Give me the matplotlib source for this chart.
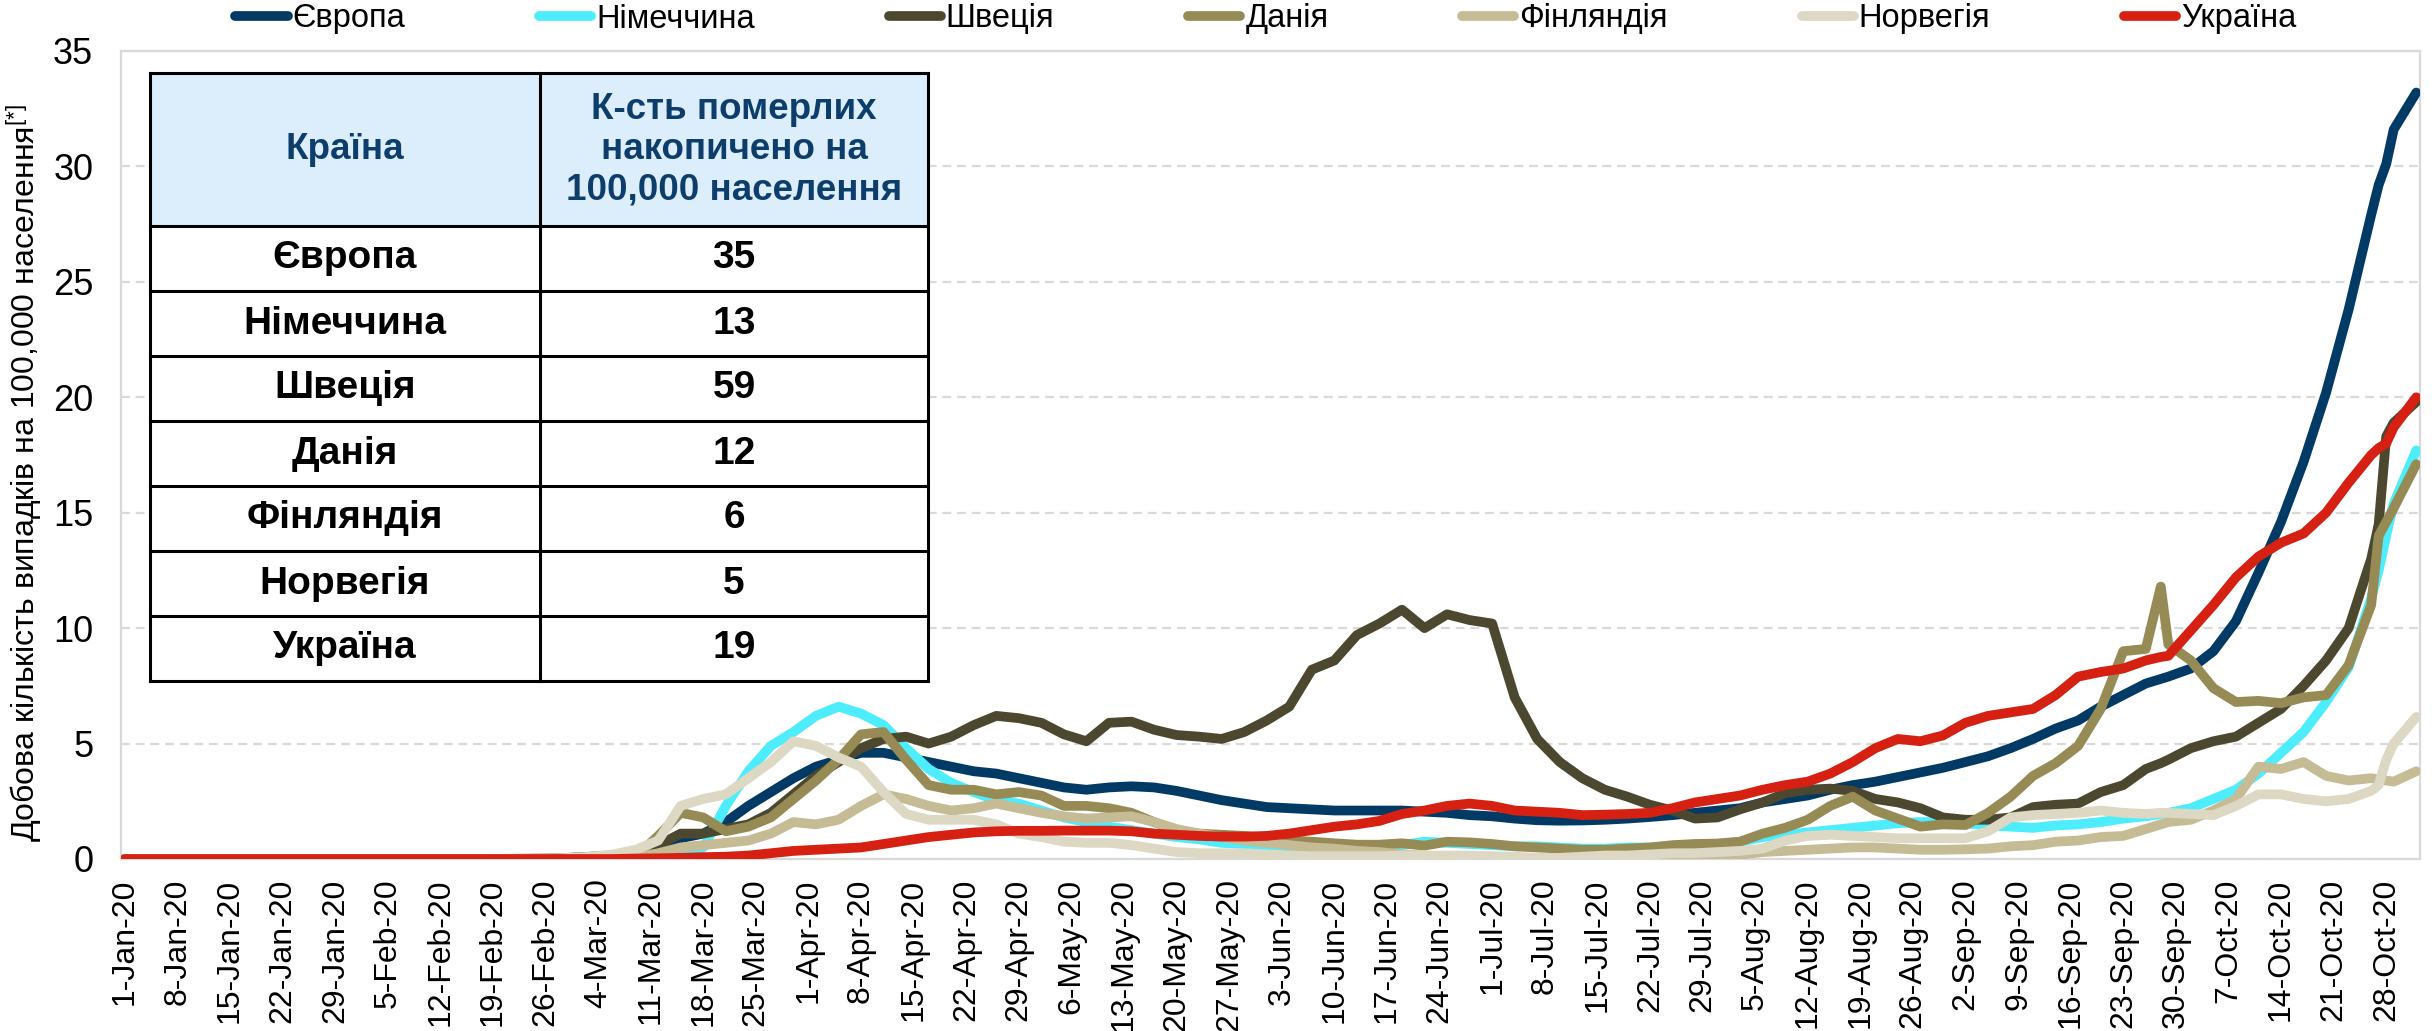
import datetime as dt

import matplotlib.pyplot as plt
import numpy as np
from matplotlib.lines import Line2D
from matplotlib.patches import Rectangle

plt.rcParams['font.family'] = ['Liberation Sans', 'DejaVu Sans']
plt.rcParams['mathtext.fontset'] = 'custom'
plt.rcParams['mathtext.rm'] = 'Liberation Sans'

# Daily series, 1-Jan-2020 .. 1-Nov-2020 (category index = day number)
start = dt.date(2020, 1, 1)
n_days = 306

days = (list(range(0, 57, 7)) + list(range(59, 270, 3)) + [271]
        + list(range(272, 300, 3)) + [300, 301, 302, 305])

europe = [0, 0, 0, 0, 0, 0, 0, 0, 0.02,
          0.05, 0.1, 0.15, 0.3, 0.6, 0.9, 1.1, 1.6, 2.3, 2.9, 3.5, 4.0, 4.3, 4.6, 4.6, 4.4, 4.2, 4.0, 3.8, 3.7, 3.5,
          3.3, 3.1, 3.0, 3.1, 3.15, 3.1, 2.95, 2.75, 2.55, 2.4, 2.25, 2.2, 2.15, 2.1, 2.1, 2.1, 2.1, 2.05, 2.0, 1.9, 1.85, 1.75,
          1.68, 1.66, 1.67, 1.7, 1.75, 1.82, 1.9, 2.0, 2.1, 2.2, 2.45, 2.6, 2.75, 3.0, 3.2, 3.35, 3.55, 3.75, 3.95, 4.2, 4.45, 4.8,
          5.2, 5.65, 6.0, 6.6, 7.1, 7.6, 7.8, 7.9, 8.25, 9.0, 10.3, 12.4, 14.6, 17.2, 20.2, 23.8, 27.9, 29.2, 30.1, 31.6, 33.2]
germany = [0, 0, 0, 0, 0, 0, 0, 0, 0,
           0, 0, 0, 0.05, 0.1, 0.2, 0.5, 2.3, 3.8, 4.9, 5.5, 6.2, 6.6, 6.3, 5.8, 4.8, 3.9, 3.3, 2.9, 2.55, 2.4,
           2.1, 1.8, 1.6, 1.4, 1.25, 1.1, 0.95, 0.85, 0.7, 0.65, 0.55, 0.5, 0.45, 0.4, 0.45, 0.5, 0.6, 0.75, 0.7, 0.65, 0.6, 0.55,
           0.55, 0.5, 0.45, 0.45, 0.5, 0.5, 0.55, 0.6, 0.65, 0.75, 0.95, 1.05, 1.15, 1.25, 1.35, 1.45, 1.55, 1.6, 1.6, 1.55, 1.45, 1.4,
           1.35, 1.45, 1.5, 1.6, 1.75, 1.85, 1.95, 2.0, 2.2, 2.6, 3.0, 3.7, 4.6, 5.5, 6.8, 8.3, 11.3, 12.5, 14.0, 15.4, 17.7]
sweden = [0, 0, 0, 0, 0, 0, 0, 0, 0,
          0, 0, 0, 0.05, 0.6, 1.1, 1.1, 1.3, 1.5, 2.0, 2.8, 3.6, 4.2, 4.8, 5.2, 5.3, 5.0, 5.3, 5.8, 6.2, 6.1,
          5.9, 5.4, 5.1, 5.9, 5.95, 5.6, 5.37, 5.3, 5.2, 5.5, 6.0, 6.6, 8.2, 8.6, 9.7, 10.2, 10.8, 10.0, 10.6, 10.35, 10.2, 7.0,
          5.2, 4.2, 3.5, 3.0, 2.7, 2.35, 2.1, 1.75, 1.8, 2.15, 2.45, 2.85, 3.0, 3.05, 2.95, 2.6, 2.45, 2.2, 1.8, 1.7, 1.7, 1.8,
          2.25, 2.35, 2.4, 2.9, 3.2, 3.9, 4.15, 4.3, 4.8, 5.1, 5.3, 5.9, 6.5, 7.5, 8.6, 10.0, 13.0, 14.5, 18.3, 18.9, 19.8]
denmark = [0, 0, 0, 0, 0, 0, 0, 0, 0,
           0, 0, 0.05, 0.1, 1.0, 2.0, 1.8, 1.2, 1.4, 1.8, 2.6, 3.4, 4.3, 5.4, 5.5, 4.3, 3.2, 3.0, 3.0, 2.8, 2.9,
           2.75, 2.3, 2.3, 2.2, 2.0, 1.6, 1.25, 1.1, 1.05, 1.0, 0.9, 0.8, 0.75, 0.68, 0.62, 0.62, 0.68, 0.58, 0.75, 0.72, 0.65, 0.55,
           0.5, 0.45, 0.4, 0.4, 0.45, 0.5, 0.6, 0.65, 0.67, 0.75, 1.1, 1.35, 1.7, 2.3, 2.7, 2.1, 1.75, 1.4, 1.5, 1.47, 2.0, 2.7,
           3.6, 4.15, 4.9, 6.5, 9.0, 9.1, 11.8, 9.3, 8.6, 7.4, 6.8, 6.85, 6.75, 7.0, 7.1, 8.4, 11.0, 14.0, 14.6, 15.2, 17.1]
finland = [0, 0, 0, 0, 0, 0, 0, 0, 0,
           0, 0, 0, 0.05, 0.25, 0.5, 0.6, 0.7, 0.8, 1.1, 1.6, 1.5, 1.7, 2.3, 2.8, 2.6, 2.3, 2.1, 2.2, 2.4, 2.2,
           2.0, 1.85, 1.75, 1.8, 1.85, 1.6, 1.3, 1.1, 0.95, 0.8, 0.7, 0.6, 0.5, 0.45, 0.35, 0.3, 0.2, 0.15, 0.1, 0.08, 0.06, 0.05,
           0.05, 0.05, 0.05, 0.05, 0.07, 0.08, 0.1, 0.12, 0.15, 0.18, 0.3, 0.35, 0.4, 0.45, 0.5, 0.5, 0.45, 0.4, 0.4, 0.42, 0.45, 0.55,
           0.6, 0.75, 0.8, 0.95, 1.0, 1.3, 1.5, 1.6, 1.7, 2.1, 2.6, 4.0, 3.9, 4.2, 3.6, 3.4, 3.5, 3.45, 3.4, 3.35, 3.8]
norway = [0, 0, 0, 0, 0, 0, 0, 0, 0.02,
          0.05, 0.1, 0.2, 0.4, 0.8, 2.3, 2.6, 2.8, 3.5, 4.2, 5.1, 4.9, 4.4, 4.0, 2.9, 1.95, 1.7, 1.7, 1.7, 1.5, 1.1,
          0.95, 0.75, 0.7, 0.7, 0.6, 0.45, 0.3, 0.25, 0.25, 0.25, 0.2, 0.15, 0.12, 0.12, 0.12, 0.12, 0.15, 0.15, 0.15, 0.15, 0.12, 0.1,
          0.05, 0.05, 0.1, 0.15, 0.15, 0.2, 0.25, 0.25, 0.3, 0.35, 0.45, 0.8, 1.0, 1.05, 1.0, 0.95, 0.9, 0.9, 0.9, 0.9, 1.2, 1.8,
          1.9, 1.95, 2.0, 2.1, 2.0, 1.95, 2.0, 2.0, 1.95, 1.9, 2.3, 2.8, 2.8, 2.6, 2.5, 2.6, 2.95, 3.2, 4.3, 5.0, 6.15]
ukraine = [0, 0, 0, 0, 0, 0, 0, 0, 0,
           0, 0, 0, 0.02, 0.03, 0.05, 0.08, 0.1, 0.15, 0.25, 0.35, 0.4, 0.45, 0.5, 0.65, 0.8, 0.95, 1.05, 1.15, 1.2, 1.22,
           1.22, 1.23, 1.23, 1.23, 1.2, 1.1, 1.05, 1.0, 0.97, 0.97, 1.0, 1.1, 1.25, 1.4, 1.5, 1.65, 1.95, 2.1, 2.3, 2.4, 2.3, 2.1,
           2.05, 2.0, 1.9, 1.92, 1.95, 2.0, 2.2, 2.45, 2.6, 2.75, 3.0, 3.2, 3.35, 3.7, 4.2, 4.8, 5.2, 5.1, 5.35, 5.9, 6.2, 6.35,
           6.5, 7.1, 7.9, 8.1, 8.25, 8.6, 8.75, 8.8, 9.9, 11.0, 12.2, 13.1, 13.7, 14.1, 15.0, 16.3, 17.5, 17.8, 18.0, 18.7, 20.0]

names = ['Європа', 'Німеччина', 'Швеція', 'Данія', 'Фінляндія', 'Норвегія', 'Україна']
colors = ['#023A66', '#4DEDFD', '#4C4830', '#968B55', '#C5BB95', '#DDD8C3', '#D52012']
values = [europe, germany, sweden, denmark, finland, norway, ukraine]

# table: cumulative deaths per 100,000
deaths = [35, 13, 59, 12, 6, 5, 19]

W, H = 2432, 1031
LW = 7
narrow = ['Liberation Sans Narrow', 'Liberation Sans', 'DejaVu Sans']

fig = plt.figure(figsize=(W / 100, H / 100), dpi=100)
ax = fig.add_axes([121 / W, 1 - 859 / H, (2420 - 121) / W, (859 - 51) / H])

for name, vals, col in zip(names, values, colors):
    ax.plot(days, vals, color=col, lw=LW, solid_joinstyle='round',
            solid_capstyle='round', label=name, zorder=3)

ax.set_xlim(-0.5, n_days - 0.5)
ax.set_ylim(0, 35)
ax.set_yticks(range(0, 36, 5))
tick_pos = np.arange(0, 302, 7)
tick_dates = [start + dt.timedelta(days=int(i)) for i in tick_pos]
ax.set_xticks(tick_pos, [f"{d.day}-{d.strftime('%b-%y')}" for d in tick_dates],
              rotation=90)
ax.tick_params(axis='x', length=0, pad=14, labelsize=23)
ax.tick_params(axis='y', length=0, pad=20, labelsize=26)
for lbl in ax.get_yticklabels():
    lbl.set_family(narrow)
ax.yaxis.grid(True, color='#D9D9D9', lw=1.6, ls=(0, (4, 2.6)))
ax.set_axisbelow(True)
for s in ax.spines.values():
    s.set_color('#D9D9D9')
    s.set_linewidth(1.6)
ax.set_ylabel('Добова кількість випадків на 100,000 населення$^{\\mathrm{[*]}}$',
              fontsize=23)
ax.yaxis.set_label_coords(-0.0335, 0.478)

# legend along the top
handles = [Line2D([], [], color=c, lw=LW, solid_capstyle='round') for c in colors]
fig.legend(handles, names, loc='center', bbox_to_anchor=(1266 / W, 1 - 19 / H),
           ncol=7, frameon=False, fontsize=23.5, handlelength=1.6,
           handletextpad=0.15, columnspacing=4.1, borderpad=0, borderaxespad=0)


# inset table (pixel layout converted to figure fractions)
def fx(px):
    return px / W


def fy(py):
    return 1 - py / H


t_left, t_mid, t_right = 150, 540, 928
t_top, head_bot, row_h = 73, 226, 65
t_bot = head_bot + row_h * len(names)

fig.add_artist(Rectangle((fx(t_left), fy(t_bot)), fx(t_right) - fx(t_left),
                         fy(t_top) - fy(t_bot), transform=fig.transFigure,
                         facecolor='white', edgecolor='none', zorder=5))
fig.add_artist(Rectangle((fx(t_left), fy(head_bot)), fx(t_right) - fx(t_left),
                         fy(t_top) - fy(head_bot), transform=fig.transFigure,
                         facecolor='#DCEEFB', edgecolor='none', zorder=5))
line_kw = dict(transform=fig.transFigure, color='black', lw=2.2, zorder=6,
               solid_capstyle='projecting')
for yy in [t_top, head_bot] + [head_bot + row_h * (i + 1) for i in range(len(names))]:
    fig.add_artist(Line2D([fx(t_left), fx(t_right)], [fy(yy), fy(yy)], **line_kw))
for xx in (t_left, t_mid, t_right):
    fig.add_artist(Line2D([fx(xx), fx(xx)], [fy(t_top), fy(t_bot)], **line_kw))

head_kw = dict(ha='center', va='center', fontsize=26.5, fontweight='bold',
               color='#0D3D6B', zorder=7)
fig.text(fx((t_left + t_mid) / 2), fy((t_top + head_bot) / 2), 'Країна', **head_kw)
fig.text(fx((t_mid + t_right) / 2), fy((t_top + head_bot) / 2),
         'К-сть померлих\nнакопичено на\n100,000 населення', linespacing=1.2, **head_kw)
for i, (name, val) in enumerate(zip(names, deaths)):
    yc = fy(head_bot + row_h * (i + 0.5))
    fig.text(fx((t_left + t_mid) / 2), yc, name, ha='center', va='center',
             fontsize=28, fontweight='bold', zorder=7)
    fig.text(fx((t_mid + t_right) / 2), yc, str(val), ha='center', va='center',
             fontsize=28, fontweight='bold', zorder=7)

fig.savefig('out.png', dpi=100)
